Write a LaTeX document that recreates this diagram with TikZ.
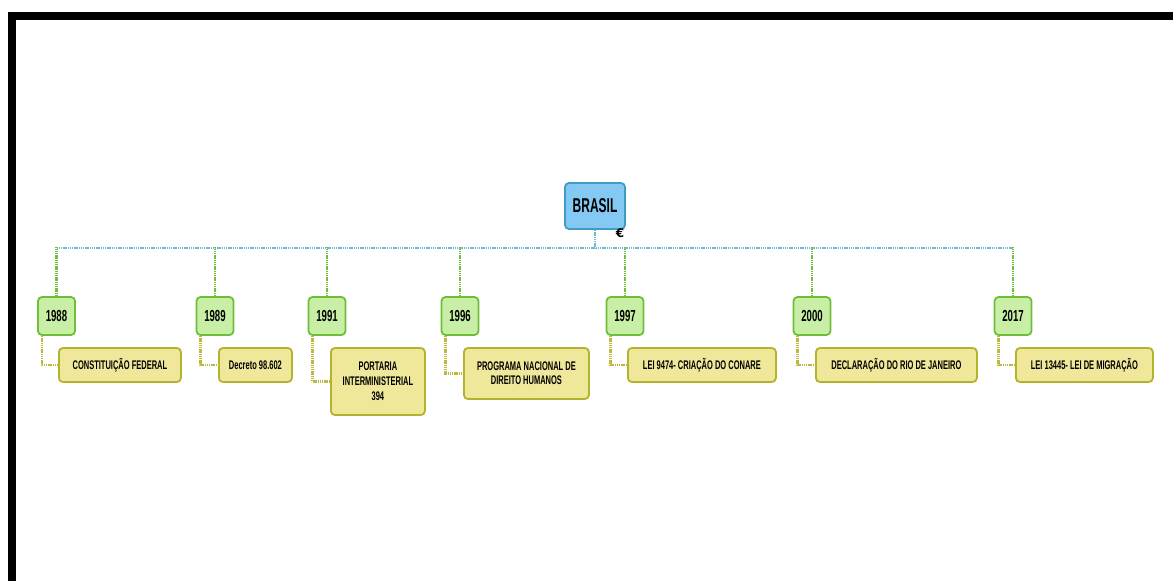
\documentclass[tikz,border=0pt]{standalone}
\usepackage{fontspec}
\setmainfont{Liberation Sans}
\newfontfamily\nar[FakeStretch=0.6]{Liberation Sans}
\newfontfamily\eurofont{DejaVu Sans}
\definecolor{brfill}{HTML}{84C9F4}
\definecolor{brdraw}{HTML}{3F9CC6}
\definecolor{yrfill}{HTML}{C9EFA6}
\definecolor{yrdraw}{HTML}{6DBE3A}
\definecolor{itfill}{HTML}{EFE89B}
\definecolor{itdraw}{HTML}{B4B32E}
\definecolor{busc}{HTML}{6FBAD4}
\definecolor{dropc}{HTML}{6FBF3A}
\definecolor{linkc}{HTML}{BDB83E}
\tikzset{
  box/.style={rounded corners=4pt, line width=1.8pt, align=center, inner sep=0pt, font=\nar\bfseries},
  rootbox/.style={box, fill=brfill, draw=brdraw, minimum width=60pt, minimum height=46pt, font=\nar\bfseries\fontsize{20}{22}\selectfont},
  yearbox/.style={box, fill=yrfill, draw=yrdraw, minimum width=37pt, minimum height=38pt, font=\nar\bfseries\fontsize{16}{18}\selectfont},
  itembox/.style={box, fill=itfill, draw=itdraw, anchor=west, minimum height=34pt, font=\nar\bfseries\fontsize{12.5}{15}\selectfont},
  busline/.style={draw=busc, line width=2.6pt, dash pattern=on 1.4pt off 0.8pt},
  dropline/.style={draw=dropc, line width=2.4pt, dash pattern=on 1.4pt off 0.8pt},
  linkline/.style={draw=linkc, line width=2.4pt, dash pattern=on 1.4pt off 0.8pt},
}
\begin{document}
\begin{tikzpicture}[x=1pt,y=-1pt]
\useasboundingbox (0,0) rectangle (1173,581);
\fill[black] (8,12) rectangle (1173,20);
\fill[black] (8,12) rectangle (16,581);

\coordinate (busL) at (56.5,248);
\coordinate (busR) at (1013,248);

\node[rootbox] (br) at (595,206) {BRASIL};

\node[yearbox] (y1) at (56.5,316) {1988};
\node[yearbox] (y2) at (215,316) {1989};
\node[yearbox] (y3) at (327,316) {1991};
\node[yearbox] (y4) at (460,316) {1996};
\node[yearbox] (y5) at (625,316) {1997};
\node[yearbox] (y6) at (812,316) {2000};
\node[yearbox] (y7) at (1013,316) {2017};

\node[itembox, minimum width=122pt] (c1) at (58,365) {CONSTITUIÇÃO FEDERAL};
\node[itembox, minimum width=73pt] (c2) at (218,365) {Decreto 98.602};
\node[itembox, minimum width=94pt, minimum height=67pt] (c3) at (330,381.5) {PORTARIA\\INTERMINISTERIAL\\394};
\node[itembox, minimum width=125pt, minimum height=51pt, font=\nar\bfseries\fontsize{12.5}{14}\selectfont] (c4) at (463,373.5) {PROGRAMA NACIONAL DE\\DIREITO HUMANOS};
\node[itembox, minimum width=148pt] (c5) at (627,365) {LEI 9474- CRIAÇÃO DO CONARE};
\node[itembox, minimum width=161pt] (c6) at (815,365) {DECLARAÇÃO DO RIO DE JANEIRO};
\node[itembox, minimum width=137pt] (c7) at (1015,365) {LEI 13445- LEI DE MIGRAÇÃO};

\draw[busline] (br.south) -- (br.south |- busL);
\draw[busline] (busL) -- (busR);
\foreach \y in {y1,y2,y3,y4,y5,y6,y7}{
  \draw[dropline] (\y.north) -- ([yshift=1.5pt]\y.north |- busL);
}
\foreach \y/\c in {y1/c1,y2/c2,y3/c3,y4/c4,y5/c5,y6/c6,y7/c7}{
  \draw[linkline] ([xshift=5pt]\y.south west) |- (\c.west);
}
\node[font=\eurofont\bfseries\fontsize{12}{12}\selectfont, inner sep=0pt] (ic) at (620,233) {€};
\end{tikzpicture}
\end{document}
